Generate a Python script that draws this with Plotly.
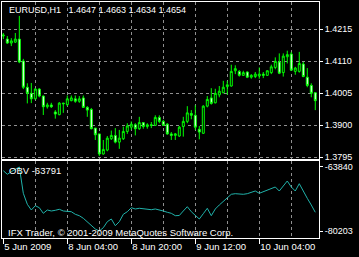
import plotly.graph_objects as go

bar_idx = list(range(79))

open_ = [1.4192, 1.4182, 1.4169, 1.4172, 1.4182, 1.4110, 1.4024, 1.4004, 1.3986, 1.4018,
         1.3995, 1.3960, 1.3966, 1.3943, 1.3934, 1.3972, 1.3967, 1.3980, 1.3986, 1.3978,
         1.3989, 1.3958, 1.3951, 1.3890, 1.3871, 1.3805, 1.3818, 1.3855, 1.3866, 1.3844,
         1.3855, 1.3879, 1.3893, 1.3901, 1.3888, 1.3908, 1.3895, 1.3901, 1.3899, 1.3925,
         1.3912, 1.3903, 1.3871, 1.3866, 1.3864, 1.3895, 1.3912, 1.3938, 1.3932, 1.3886,
         1.3873, 1.3962, 1.3989, 1.3973, 1.3999, 1.4006, 1.4026, 1.4028, 1.4078, 1.4076,
         1.4063, 1.4074, 1.4057, 1.4059, 1.4061, 1.4067, 1.4063, 1.4072, 1.4089, 1.4107,
         1.4072, 1.4124, 1.4133, 1.4076, 1.4076, 1.4100, 1.4057, 1.4030, 1.4006]
high = [1.4202, 1.4192, 1.4185, 1.4202, 1.4258, 1.4117, 1.4037, 1.4038, 1.4021, 1.4021,
        1.3997, 1.3973, 1.3973, 1.3949, 1.3975, 1.3973, 1.3997, 1.3997, 1.3997, 1.3995,
        1.3997, 1.3962, 1.3956, 1.3890, 1.3871, 1.3851, 1.3864, 1.3882, 1.3890, 1.3884,
        1.3895, 1.3906, 1.3912, 1.3906, 1.3927, 1.3910, 1.3906, 1.3910, 1.3932, 1.3932,
        1.3917, 1.3906, 1.3877, 1.3874, 1.3897, 1.3927, 1.3962, 1.3949, 1.3965, 1.3897,
        1.3965, 1.3995, 1.4021, 1.4019, 1.4028, 1.4045, 1.4045, 1.4098, 1.4096, 1.4080,
        1.4078, 1.4076, 1.4067, 1.4074, 1.4089, 1.4074, 1.4080, 1.4098, 1.4122, 1.4135,
        1.4135, 1.4144, 1.4140, 1.4091, 1.4140, 1.4107, 1.4087, 1.4037, 1.4008]
low = [1.4182, 1.4166, 1.4159, 1.4169, 1.4103, 1.4018, 1.3971, 1.3972, 1.3984, 1.3991,
       1.3933, 1.3954, 1.3956, 1.3921, 1.3932, 1.3940, 1.3962, 1.3978, 1.3973, 1.3973,
       1.3956, 1.3927, 1.3886, 1.3851, 1.3798, 1.3803, 1.3814, 1.3851, 1.3840, 1.3822,
       1.3851, 1.3871, 1.3884, 1.3866, 1.3884, 1.3888, 1.3888, 1.3890, 1.3897, 1.3906,
       1.3897, 1.3868, 1.3851, 1.3851, 1.3861, 1.3862, 1.3906, 1.3919, 1.3884, 1.3853,
       1.3871, 1.3958, 1.3967, 1.3971, 1.3991, 1.4004, 1.3999, 1.4026, 1.4067, 1.4059,
       1.4061, 1.4054, 1.4052, 1.4054, 1.4052, 1.4054, 1.4061, 1.4067, 1.4083, 1.4067,
       1.4059, 1.4102, 1.4078, 1.4065, 1.4072, 1.4057, 1.4024, 1.3991, 1.3949]
close = [1.4195, 1.4169, 1.4176, 1.4182, 1.4107, 1.4024, 1.4004, 1.3986, 1.4018, 1.3995,
         1.3960, 1.3966, 1.3960, 1.3936, 1.3972, 1.3970, 1.3986, 1.3989, 1.3978, 1.3986,
         1.3958, 1.3949, 1.3888, 1.3868, 1.3805, 1.3820, 1.3857, 1.3866, 1.3844, 1.3857,
         1.3879, 1.3897, 1.3903, 1.3888, 1.3908, 1.3895, 1.3901, 1.3899, 1.3925, 1.3912,
         1.3899, 1.3871, 1.3866, 1.3871, 1.3893, 1.3912, 1.3940, 1.3932, 1.3893, 1.3877,
         1.3962, 1.3984, 1.3971, 1.4004, 1.4011, 1.4024, 1.4032, 1.4076, 1.4085, 1.4063,
         1.4072, 1.4057, 1.4063, 1.4067, 1.4067, 1.4063, 1.4078, 1.4091, 1.4109, 1.4070,
         1.4126, 1.4131, 1.4080, 1.4087, 1.4102, 1.4059, 1.4030, 1.4004, 1.3980]
obv = [-64786, -65706, -65042, -64351, -63840, -70564, -73377, -74834, -73735, -74246,
       -75678, -74834, -75089, -74911, -74655, -75089, -75089, -75269, -75933, -76291,
       -76956, -77825, -78669, -79692, -80203, -79359, -77825, -77135, -78848, -77825,
       -75933, -75269, -74246, -74578, -74399, -74578, -74655, -74757, -74578, -74757,
       -75089, -75422, -75678, -76291, -76240, -75089, -73990, -75269, -76112, -77135,
       -75780, -74399, -76291, -74578, -73555, -72712, -71689, -70820, -70666, -70820,
       -70820, -70666, -70309, -69976, -70564, -70155, -69797, -69465, -68953, -69976,
       -68775, -67419, -68953, -69976, -68110, -70155, -71842, -73555, -75422]

price_ticks = [1.3795, 1.3900, 1.4005, 1.4110, 1.4215]
price_tick_text = ["1.3795", "1.3900", "1.4005", "1.4110", "1.4215"]
obv_ticks = [-80203, -63840]
obv_tick_text = ["-80203", "-63840"]
time_tick_idx = [0, 16, 32, 48, 64]
time_tick_text = ["5 Jun 2009", "8 Jun 04:00", "8 Jun 20:00", "9 Jun 12:00", "10 Jun 04:00"]
grid_idx = [8, 16, 24, 32, 40, 48, 56, 64, 72]

title_text = "EURUSD,H1\u00a0\u00a0\u00a01.4647 1.4663 1.4634 1.4654"
obv_label = "OBV -63791"
copyright_text = "IFX Trader, \u00a9 2001-2009 MetaQuotes Software Corp."

FONT = "Liberation Sans, Arial, sans-serif"
GRID = "#8f8f8f"
LIME = "#00ff00"

fig = go.Figure()
fig.add_trace(go.Candlestick(
    x=bar_idx, open=open_, high=high, low=low, close=close,
    increasing=dict(line=dict(color=LIME, width=1), fillcolor="black"),
    decreasing=dict(line=dict(color=LIME, width=1), fillcolor="white"),
    whiskerwidth=0, xaxis="x", yaxis="y", hoverinfo="skip", showlegend=False,
))
fig.add_trace(go.Scatter(
    x=bar_idx, y=obv, mode="lines", line=dict(color="#20b2aa", width=1),
    xaxis="x2", yaxis="y2", hoverinfo="skip", showlegend=False,
))

xr = [-0.33, 78.93]
common_x = dict(
    range=xr, showline=True, mirror=True, linecolor="white", linewidth=1,
    showgrid=False, zeroline=False, fixedrange=True,
    minor=dict(tickmode="array", tickvals=grid_idx, showgrid=True, gridcolor=GRID,
               griddash="3px,3px", gridwidth=1, ticks=""),
)
fig.update_layout(
    width=359, height=257,
    margin=dict(l=2, r=40, t=2, b=19),
    paper_bgcolor="black", plot_bgcolor="black",
    font=dict(family=FONT, size=9, color="white"),
    showlegend=False,
    xaxis=dict(**common_x, anchor="y", domain=[0, 1], showticklabels=False, ticks="",
               rangeslider=dict(visible=False)),
    xaxis2=dict(**common_x, anchor="y2", domain=[0, 1], matches="x",
                tickmode="array", tickvals=time_tick_idx, ticktext=time_tick_text,
                ticks="outside", ticklen=5, tickcolor="white", tickwidth=1,
                ticklabelposition="outside right",
                tickfont=dict(family=FONT, size=9.5, color="white")),
    yaxis=dict(domain=[0.3347, 1], anchor="x", side="right", range=[1.37886, 1.43036],
               tickmode="array", tickvals=price_ticks, ticktext=price_tick_text,
               ticks="outside", ticklen=3, tickcolor="white",
               showgrid=True, gridcolor=GRID, griddash="3px,3px", gridwidth=1,
               showline=True, mirror=True, linecolor="white", linewidth=1,
               zeroline=False, fixedrange=True,
               tickfont=dict(family=FONT, size=9, color="white")),
    yaxis2=dict(domain=[0, 0.3263], anchor="x2", side="right", range=[-81993, -62306],
                tickmode="array", tickvals=obv_ticks, ticktext=obv_tick_text,
                ticks="outside", ticklen=3, tickcolor="white",
                showgrid=False, showline=True, mirror=True, linecolor="white", linewidth=1,
                zeroline=False, fixedrange=True,
                tickfont=dict(family=FONT, size=9, color="white")),
    annotations=[
        dict(text=title_text, xref="paper", yref="paper", x=0.0158, y=0.966,
             xanchor="left", yanchor="middle", showarrow=False,
             font=dict(family=FONT, size=9, color="white")),
        dict(text=obv_label, xref="paper", yref="paper", x=0.0158, y=0.284,
             xanchor="left", yanchor="middle", showarrow=False,
             font=dict(family=FONT, size=9.5, color="white")),
        dict(text=copyright_text, xref="paper", yref="paper", x=0.012, y=0.025,
             xanchor="left", yanchor="middle", showarrow=False,
             font=dict(family=FONT, size=9.5, color="white")),
    ],
)

fig.write_html("out.html", config={"displayModeBar": False})
